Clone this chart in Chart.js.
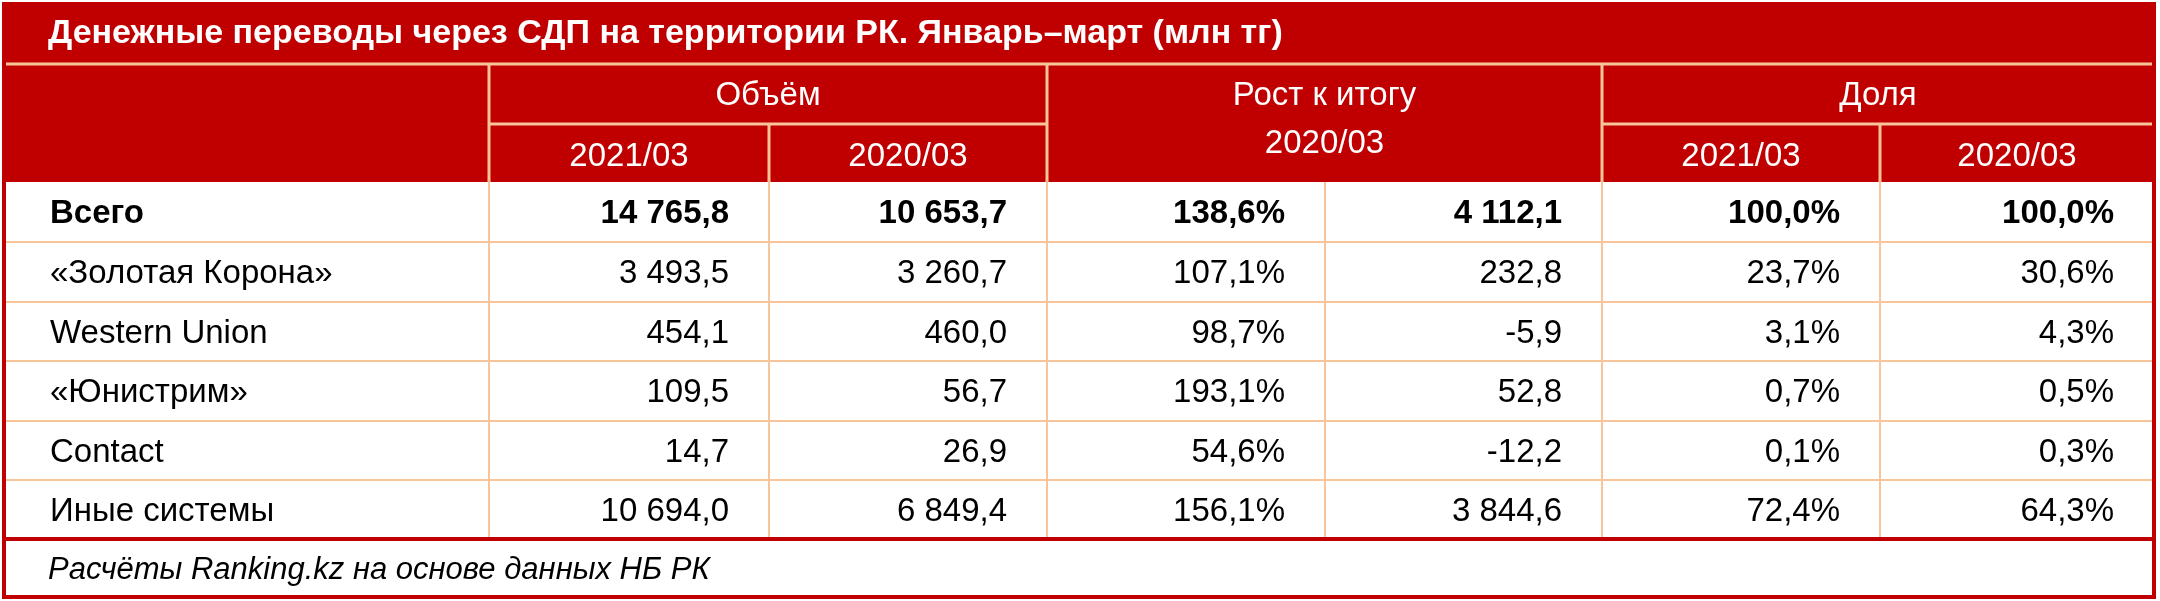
<!DOCTYPE html><html><head><meta charset="utf-8">
<script src="https://cdn.jsdelivr.net/npm/chart.js@4"></script>
<style>html,body{margin:0;padding:0;background:#fff}</style></head><body>
<canvas id="c" width="2160" height="601"></canvas>
<script>
const title = "Денежные переводы через СДП на территории РК. Январь–март (млн тг)";
const groupHeaders = ["Объём", "Рост к итогу", "Доля"];
const subHeaders = ["2021/03", "2020/03", "2020/03", "2021/03", "2020/03"];
const categories = ["Всего", "«Золотая Корона»", "Western Union", "«Юнистрим»", "Contact", "Иные системы"];
const vol2021 = ["14 765,8", "3 493,5", "454,1", "109,5", "14,7", "10 694,0"];
const vol2020 = ["10 653,7", "3 260,7", "460,0", "56,7", "26,9", "6 849,4"];
const growthPct = ["138,6%", "107,1%", "98,7%", "193,1%", "54,6%", "156,1%"];
const growthAbs = ["4 112,1", "232,8", "-5,9", "52,8", "-12,2", "3 844,6"];
const share2021 = ["100,0%", "23,7%", "3,1%", "0,7%", "0,1%", "72,4%"];
const share2020 = ["100,0%", "30,6%", "4,3%", "0,5%", "0,3%", "64,3%"];
const footer = "Расчёты Ranking.kz на основе данных НБ РК";

const colEdges = [4, 489, 769, 1047, 1325, 1602, 1880, 2154];
const rowEdges = [4, 64, 124, 182, 242, 302, 361, 421, 480, 539, 597];
const FONT = "'Liberation Sans',Arial,sans-serif";
const RED = "#C00000", LINE = "#F8C49A";

const tablePlugin = {
  id: 'table',
  afterDraw(chart) {
    const ctx = chart.ctx, xs = chart.scales.x, ys = chart.scales.y;
    const X = v => xs.getPixelForValue(v), Y = v => ys.getPixelForValue(v);
    const cols = [vol2021, vol2020, growthPct, growthAbs, share2021, share2020];
    ctx.save();
    ctx.fillStyle = "#fff"; ctx.fillRect(0, 0, chart.width, chart.height);
    ctx.fillStyle = RED;
    ctx.fillRect(X(colEdges[0]), Y(rowEdges[0]), X(colEdges[7]) - X(colEdges[0]), Y(rowEdges[3]) - Y(rowEdges[0]));
    ctx.fillStyle = "#fff"; ctx.textBaseline = "middle";
    ctx.font = "bold 34px " + FONT; ctx.textAlign = "left";
    ctx.fillText(title, X(48), Y((rowEdges[0] + rowEdges[1]) / 2));
    ctx.strokeStyle = LINE; ctx.lineWidth = 3;
    const hl = (x1, y1, x2, y2) => { ctx.beginPath(); ctx.moveTo(X(x1), Y(y1)); ctx.lineTo(X(x2), Y(y2)); ctx.stroke(); };
    hl(colEdges[0], rowEdges[1], colEdges[7], rowEdges[1]);
    hl(colEdges[1], rowEdges[2], colEdges[3], rowEdges[2]);
    hl(colEdges[5], rowEdges[2], colEdges[7], rowEdges[2]);
    [1, 3, 5].forEach(i => hl(colEdges[i], rowEdges[1], colEdges[i], rowEdges[3]));
    [2, 6].forEach(i => hl(colEdges[i], rowEdges[2], colEdges[i], rowEdges[3]));
    ctx.font = "33px " + FONT; ctx.textAlign = "center";
    groupHeaders.forEach((g, k) => {
      const a = colEdges[1 + 2 * k], b = colEdges[3 + 2 * k];
      ctx.fillText(g, X((a + b) / 2), Y((rowEdges[1] + rowEdges[2]) / 2 + 2));
    });
    const subPos = [[1, 2], [2, 3], [3, 5], [5, 6], [6, 7]];
    subHeaders.forEach((s, k) => {
      const [a, b] = subPos[k];
      const yy = (rowEdges[2] + rowEdges[3]) / 2 + (k === 2 ? -9 : 4);
      ctx.fillText(s, X((colEdges[a] + colEdges[b]) / 2), Y(yy));
    });
    ctx.strokeStyle = LINE; ctx.lineWidth = 2;
    for (let r = 4; r <= 8; r++) hl(colEdges[0], rowEdges[r], colEdges[7], rowEdges[r]);
    for (let c = 1; c <= 6; c++) hl(colEdges[c], rowEdges[3], colEdges[c], rowEdges[9]);
    ctx.fillStyle = "#000";
    categories.forEach((cat, r) => {
      const cy = Y((rowEdges[3 + r] + rowEdges[4 + r]) / 2 + 2);
      ctx.font = (r === 0 ? "bold " : "") + "33px " + FONT;
      ctx.textAlign = "left"; ctx.fillText(cat, X(50), cy);
      ctx.textAlign = "right";
      cols.forEach((arr, c) => ctx.fillText(arr[r], X(colEdges[c + 2] - 40), cy));
    });
    ctx.strokeStyle = RED; ctx.lineWidth = 4;
    hl(colEdges[0], rowEdges[9], colEdges[7], rowEdges[9]);
    ctx.strokeRect(X(colEdges[0]), Y(rowEdges[0]), X(colEdges[7]) - X(colEdges[0]), Y(rowEdges[10]) - Y(rowEdges[0]));
    ctx.fillStyle = "#000"; ctx.textAlign = "left";
    ctx.font = "italic 31px " + FONT;
    ctx.fillText(footer, X(48), Y((rowEdges[9] + rowEdges[10]) / 2 + 2));
    ctx.restore();
  }
};

new Chart(document.getElementById('c'), {
  type: 'scatter',
  data: { datasets: [{ data: [] }] },
  options: {
    responsive: false, devicePixelRatio: 1, animation: false,
    layout: { padding: 0 },
    plugins: { legend: { display: false }, tooltip: { enabled: false } },
    scales: {
      x: { type: 'linear', min: 0, max: 2160, display: false },
      y: { type: 'linear', min: 0, max: 601, reverse: true, display: false }
    }
  },
  plugins: [tablePlugin]
});
</script></body></html>
